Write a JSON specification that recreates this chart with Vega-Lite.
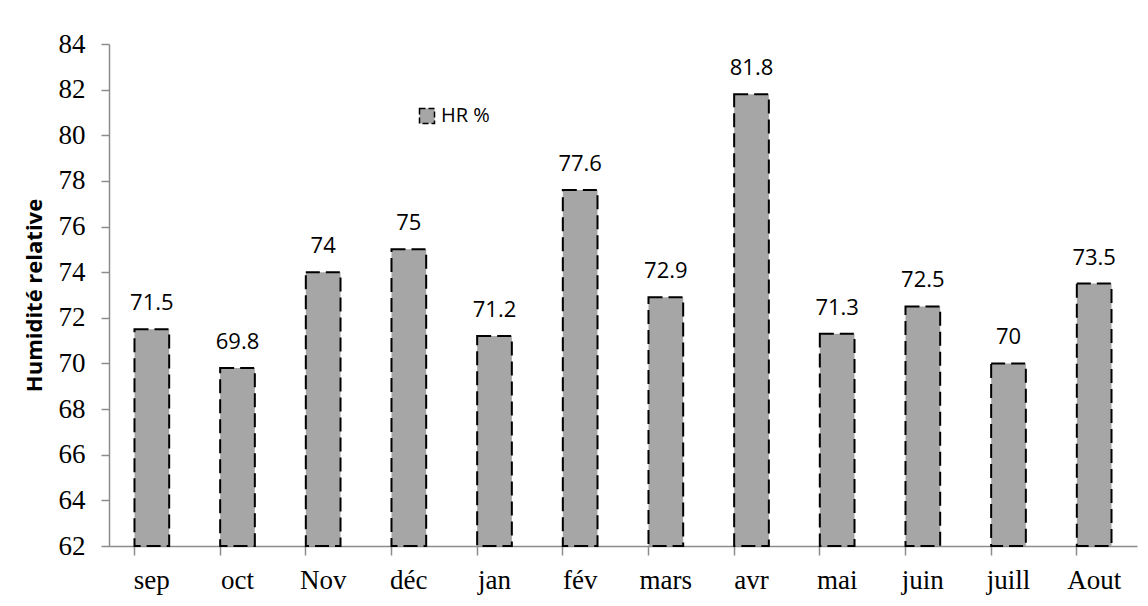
{
  "$schema": "https://vega.github.io/schema/vega-lite/v6.json",
  "width": 1028,
  "height": 502,
  "autosize": {"type": "none"},
  "padding": {"left": 109, "top": 44, "right": 11, "bottom": 60},
  "background": "white",
  "config": {"view": {"stroke": null}},
  "data": {
    "values": [
      {"mois": "sep", "hr": 71.5, "serie": "HR %"},
      {"mois": "oct", "hr": 69.8, "serie": "HR %"},
      {"mois": "Nov", "hr": 74, "serie": "HR %"},
      {"mois": "déc", "hr": 75, "serie": "HR %"},
      {"mois": "jan", "hr": 71.2, "serie": "HR %"},
      {"mois": "fév", "hr": 77.6, "serie": "HR %"},
      {"mois": "mars", "hr": 72.9, "serie": "HR %"},
      {"mois": "avr", "hr": 81.8, "serie": "HR %"},
      {"mois": "mai", "hr": 71.3, "serie": "HR %"},
      {"mois": "juin", "hr": 72.5, "serie": "HR %"},
      {"mois": "juill", "hr": 70, "serie": "HR %"},
      {"mois": "Aout", "hr": 73.5, "serie": "HR %"}
    ]
  },
  "encoding": {
    "x": {
      "field": "mois",
      "type": "nominal",
      "sort": null,
      "scale": {"paddingInner": 0.595, "paddingOuter": 0.2975},
      "axis": {
        "title": null,
        "labelAngle": 0,
        "labelFont": "Liberation Serif",
        "labelFontSize": 27,
        "labelColor": "black",
        "labelPadding": 12,
        "bandPosition": 0,
        "domainColor": "#8c8c8c",
        "domainWidth": 1.5,
        "tickColor": "#8c8c8c",
        "tickWidth": 1.5,
        "tickSize": 9
      }
    }
  },
  "layer": [
    {
      "mark": {"type": "bar", "stroke": "black", "strokeWidth": 2, "strokeDash": [14, 6]},
      "encoding": {
        "y": {
          "field": "hr",
          "type": "quantitative",
          "scale": {"domain": [62, 84], "zero": false, "nice": false},
          "axis": {
            "title": "Humidité relative",
            "titleFont": "Open Sans",
            "titleFontSize": 22,
            "titleFontWeight": "bold",
            "titleColor": "black",
            "titlePadding": 12,
            "values": [62, 64, 66, 68, 70, 72, 74, 76, 78, 80, 82, 84],
            "grid": false,
            "labelFont": "Liberation Serif",
            "labelFontSize": 27,
            "labelColor": "black",
            "labelPadding": 16,
            "domainColor": "#8c8c8c",
            "domainWidth": 1.5,
            "tickColor": "#8c8c8c",
            "tickWidth": 1.5,
            "tickSize": 8
          }
        },
        "y2": {"datum": 62},
        "color": {
          "field": "serie",
          "type": "nominal",
          "scale": {"range": ["#a6a6a6"]},
          "legend": {
            "title": null,
            "orient": "none",
            "legendX": 308,
            "legendY": 62,
            "padding": 0,
            "symbolType": "square",
            "symbolSize": 225,
            "symbolStrokeColor": "black",
            "symbolStrokeWidth": 1.5,
            "symbolDash": [6, 3],
            "symbolFillColor": "#a6a6a6",
            "symbolOpacity": 1,
            "labelFont": "Open Sans",
            "labelFontSize": 20,
            "labelColor": "black",
            "labelOffset": 4
          }
        }
      }
    },
    {
      "mark": {"type": "text", "font": "Open Sans", "fontSize": 22, "color": "black", "baseline": "alphabetic", "dy": -19},
      "encoding": {
        "y": {"field": "hr", "type": "quantitative"},
        "text": {"field": "hr", "type": "quantitative"}
      }
    }
  ]
}
